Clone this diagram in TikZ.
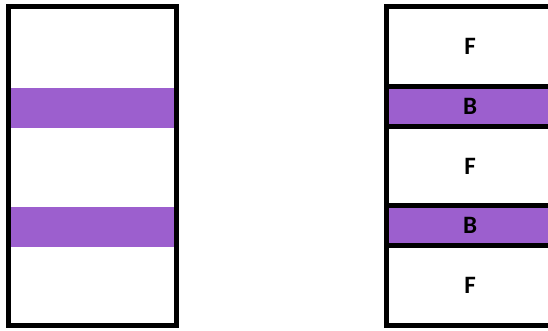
\documentclass[tikz,border=0pt]{standalone}
\usepackage{fontspec}
\setmainfont{Carlito}
\usepackage{xcolor}
\usetikzlibrary{positioning}
\definecolor{roxo}{HTML}{9C5FCE}

\begin{document}
\begin{tikzpicture}[x=1pt,y=-1pt,
  camada/.style={draw,line width=5pt,outer sep=0pt,minimum width=168pt,
                 inner sep=0pt,font=\fontsize{25}{25}\selectfont\bfseries},
  banda/.style={camada,fill=roxo}]

\useasboundingbox (0,0) rectangle (548,331);

% coluna da esquerda
\coordinate (E1) at (8.5,6.5);
\coordinate (E2) at (176.5,325.5);
\fill[roxo] (8.5,88) rectangle (176.5,128);
\fill[roxo] (8.5,207) rectangle (176.5,247);
\draw[line width=5pt] (E1) rectangle (E2);

% coluna da direita
\node[camada,minimum height=80pt,anchor=north] (f1) at (470,6.5) {F};
\node[banda,minimum height=40pt,below=0pt of f1] (b1) {B};
\node[camada,minimum height=79pt,below=0pt of b1] (f2) {F};
\node[banda,minimum height=40pt,below=0pt of f2] (b2) {B};
\node[camada,minimum height=80pt,below=0pt of b2] (f3) {F};

\end{tikzpicture}
\end{document}
